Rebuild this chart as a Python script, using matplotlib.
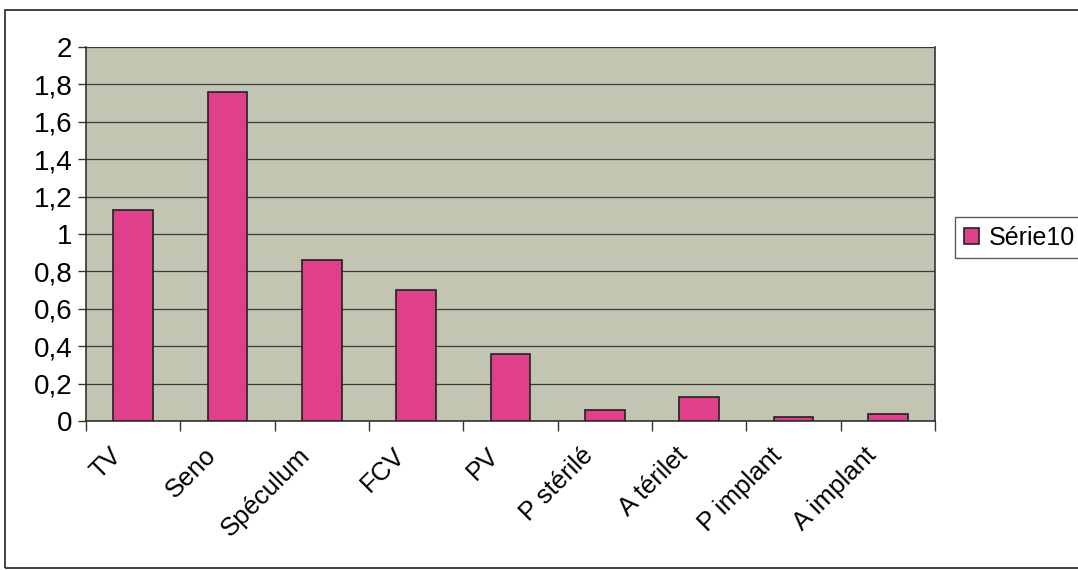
import matplotlib.pyplot as plt
from matplotlib.patches import Rectangle
from matplotlib.ticker import FuncFormatter, MultipleLocator

categories = ["TV", "Seno", "Spéculum", "FCV", "PV", "P stérilé", "A térilet", "P implant", "A implant"]
values = [1.13, 1.76, 0.86, 0.70, 0.36, 0.06, 0.13, 0.02, 0.04]
series_name = "Série10"

plt.rcParams['font.family'] = ['Liberation Sans', 'DejaVu Sans']

fig = plt.figure(figsize=(10.78, 5.70), dpi=100)
fig.patch.set_facecolor('white')

# outer chart frame
fig.patches.append(Rectangle((0.005, 0.004), 1.2, 0.978, transform=fig.transFigure,
                             fill=False, edgecolor='#222222', linewidth=1.2))

ax = fig.add_axes([0.0798, 0.2614, 0.7875, 0.656])
ax.set_facecolor('#c2c5b2')

x = list(range(len(categories)))
ax.bar(x, values, width=0.42, color='#e0408a', edgecolor='#222222', linewidth=1.2,
       label=series_name, zorder=3)

ax.set_xlim(-0.5, len(categories) - 0.5)
ax.set_ylim(0, 2)
ax.yaxis.set_major_locator(MultipleLocator(0.2))
ax.yaxis.set_major_formatter(FuncFormatter(lambda v, p: ('%g' % round(v, 1)).replace('.', ',')))
ax.grid(axis='y', color='#3a3a3a', linewidth=0.9, zorder=1)

# ticks between categories
ax.set_xticks([i - 0.5 for i in range(len(categories) + 1)])
ax.set_xticklabels([])
ax.tick_params(axis='x', which='major', length=7, width=1, color='#333333', direction='out')
ax.tick_params(axis='y', length=6, width=1, color='#333333', labelsize=20, pad=4)

# rotated category labels, right end left of the bar centre
for i, name in zip(x, categories):
    ax.annotate(name, xy=(i, 0), xycoords=('data', 'axes fraction'),
                xytext=(-17, -16), textcoords='offset points',
                rotation=45, ha='right', va='top', rotation_mode='anchor',
                fontsize=18.5, annotation_clip=False)

for side in ['left', 'right', 'bottom']:
    ax.spines[side].set_color('#333333')
    ax.spines[side].set_linewidth(1.2)
ax.spines['top'].set_visible(False)

leg = ax.legend(loc='center left', bbox_to_anchor=(0.886, 0.583), bbox_transform=fig.transFigure,
                fontsize=18, frameon=True, fancybox=False, handlelength=0.6, handleheight=0.6,
                handletextpad=0.4, borderpad=0.35, borderaxespad=0)
leg.get_frame().set_edgecolor('#333333')
leg.get_frame().set_linewidth(1.0)

plt.savefig('out.png', dpi=100)
